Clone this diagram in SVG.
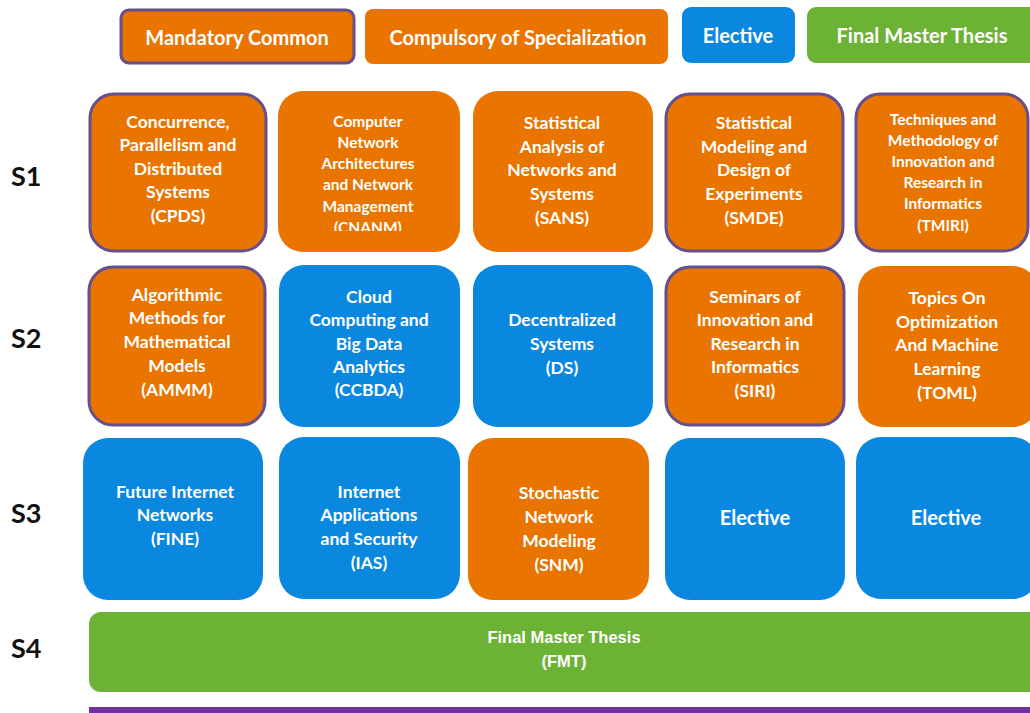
<svg xmlns="http://www.w3.org/2000/svg" width="1030" height="713" viewBox="0 0 1030 713">
<style>
.or{fill:#E97400}
.bl{fill:#0A88E0}
.gr{fill:#6CB234}
.mc{stroke:#654F8C;stroke-width:3}
text{font-family:Lato,"Liberation Sans",sans-serif;font-weight:bold;fill:#fff;text-anchor:middle}
.t16{font-size:17.5px}
.t14{font-size:15.5px}
.lg{font-size:20px}
.sl{font-size:27px;fill:#111;text-anchor:start}
</style>
<defs>
<clipPath id="clipCN"><rect x="270" y="90" width="200" height="141"/></clipPath>
</defs>
<rect width="1030" height="713" fill="#fff"/>
<g id="legend">
<g id="leg-mandatory"><rect class="or mc" x="121" y="10" width="233" height="53" rx="8"/><text class="lg" x="237" y="45">Mandatory Common</text></g>
<g id="leg-compulsory"><rect class="or" x="365" y="9" width="303" height="55" rx="8"/><text class="lg" x="518" y="45">Compulsory of Specialization</text></g>
<g id="leg-elective"><rect class="bl" x="682" y="7" width="113" height="56" rx="9"/><text class="lg" x="738" y="43">Elective</text></g>
<g id="leg-fmt"><rect class="gr" x="807" y="7" width="240" height="56" rx="9"/><text class="lg" x="922" y="43">Final Master Thesis</text></g>
</g>
<g id="labels">
<text class="sl" x="11" y="186">S1</text>
<text class="sl" x="11" y="348">S2</text>
<text class="sl" x="11" y="523">S3</text>
<text class="sl" x="11" y="658">S4</text>
</g>
<g id="connectors"></g>
<g id="CPDS"><rect class="or mc" x="90" y="94" width="176" height="157" rx="24"/>
<text class="t16"><tspan x="178" y="128">Concurrence,</tspan><tspan x="178" y="151">Parallelism and</tspan><tspan x="178" y="175">Distributed</tspan><tspan x="178" y="198">Systems</tspan><tspan x="178" y="222">(CPDS)</tspan></text></g>
<g id="CNANM"><rect class="or" x="278" y="91" width="182" height="161" rx="25"/>
<text class="t14" clip-path="url(#clipCN)"><tspan x="368" y="127">Computer</tspan><tspan x="368" y="148">Network</tspan><tspan x="368" y="169">Architectures</tspan><tspan x="368" y="190">and Network</tspan><tspan x="368" y="212">Management</tspan><tspan x="368" y="233">(CNANM)</tspan></text></g>
<g id="SANS"><rect class="or" x="473" y="91" width="180" height="161" rx="25"/>
<text class="t16"><tspan x="562" y="129">Statistical</tspan><tspan x="562" y="153">Analysis of</tspan><tspan x="562" y="176">Networks and</tspan><tspan x="562" y="200">Systems</tspan><tspan x="562" y="224">(SANS)</tspan></text></g>
<g id="SMDE"><rect class="or mc" x="666" y="94" width="177" height="157" rx="24"/>
<text class="t16"><tspan x="754" y="129">Statistical</tspan><tspan x="754" y="153">Modeling and</tspan><tspan x="754" y="176">Design of</tspan><tspan x="754" y="200">Experiments</tspan><tspan x="754" y="224">(SMDE)</tspan></text></g>
<g id="TMIRI"><rect class="or mc" x="856" y="94" width="172" height="157" rx="24"/>
<text class="t14"><tspan x="943" y="125">Techniques and</tspan><tspan x="943" y="146">Methodology of</tspan><tspan x="943" y="167">Innovation and</tspan><tspan x="943" y="188">Research in</tspan><tspan x="943" y="209">Informatics</tspan><tspan x="943" y="231">(TMIRI)</tspan></text></g>
<g id="AMMM"><rect class="or mc" x="89" y="267" width="176" height="158" rx="24"/>
<text class="t16"><tspan x="177" y="301">Algorithmic</tspan><tspan x="177" y="324">Methods for</tspan><tspan x="177" y="348">Mathematical</tspan><tspan x="177" y="372">Models</tspan><tspan x="177" y="396">(AMMM)</tspan></text></g>
<g id="CCBDA"><rect class="bl" x="279" y="265" width="181" height="162" rx="25"/>
<text class="t16"><tspan x="369" y="303">Cloud</tspan><tspan x="369" y="326">Computing and</tspan><tspan x="369" y="350">Big Data</tspan><tspan x="369" y="373">Analytics</tspan><tspan x="369" y="396">(CCBDA)</tspan></text></g>
<g id="DS"><rect class="bl" x="473" y="265" width="180" height="162" rx="25"/>
<text class="t16"><tspan x="562" y="326">Decentralized</tspan><tspan x="562" y="350">Systems</tspan><tspan x="562" y="374">(DS)</tspan></text></g>
<g id="SIRI"><rect class="or mc" x="666" y="267" width="178" height="158" rx="24"/>
<text class="t16"><tspan x="755" y="303">Seminars of</tspan><tspan x="755" y="326">Innovation and</tspan><tspan x="755" y="350">Research in</tspan><tspan x="755" y="373">Informatics</tspan><tspan x="755" y="397">(SIRI)</tspan></text></g>
<g id="TOML"><rect class="or" x="858" y="266" width="180" height="161" rx="25"/>
<text class="t16"><tspan x="947" y="304">Topics On</tspan><tspan x="947" y="328">Optimization</tspan><tspan x="947" y="351">And Machine</tspan><tspan x="947" y="375">Learning</tspan><tspan x="947" y="399">(TOML)</tspan></text></g>
<g id="FINE"><rect class="bl" x="83" y="438" width="180" height="162" rx="25"/>
<text class="t16"><tspan x="175" y="498">Future Internet</tspan><tspan x="175" y="521">Networks</tspan><tspan x="175" y="545">(FINE)</tspan></text></g>
<g id="IAS"><rect class="bl" x="279" y="437" width="181" height="162" rx="25"/>
<text class="t16"><tspan x="369" y="498">Internet</tspan><tspan x="369" y="521">Applications</tspan><tspan x="369" y="545">and Security</tspan><tspan x="369" y="569">(IAS)</tspan></text></g>
<g id="SNM"><rect class="or" x="468" y="438" width="181" height="162" rx="25"/>
<text class="t16"><tspan x="559" y="499">Stochastic</tspan><tspan x="559" y="523">Network</tspan><tspan x="559" y="547">Modeling</tspan><tspan x="559" y="571">(SNM)</tspan></text></g>
<g id="ELEC1"><rect class="bl" x="665" y="438" width="180" height="162" rx="25"/>
<text class="lg" x="755" y="525">Elective</text></g>
<g id="ELEC2"><rect class="bl" x="856" y="437" width="182" height="162" rx="25"/>
<text class="lg" x="946" y="525">Elective</text></g>
<g id="FMT"><rect class="gr" x="89" y="612" width="960" height="80" rx="12"/>
<text style="font-size:16.5px;font-family:'Liberation Sans',sans-serif"><tspan x="564" y="643">Final Master Thesis</tspan><tspan x="564" y="667">(FMT)</tspan></text></g>
<rect id="bottom-bar" x="89" y="707" width="945" height="8" fill="#7332A0"/>
</svg>
